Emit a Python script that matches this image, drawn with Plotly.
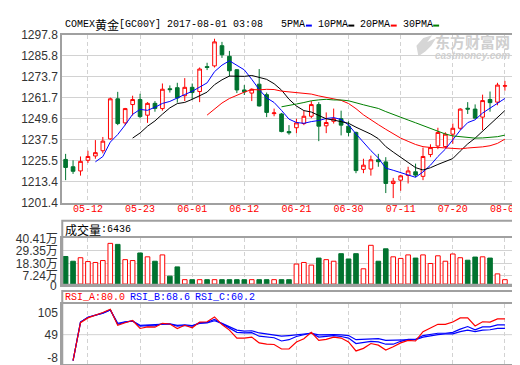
import plotly.graph_objects as go
import pandas as pd

# ---------------- data ----------------
dates = ["05-09","05-10","05-11","05-12","05-15","05-16","05-17","05-18","05-19","05-22",
         "05-23","05-24","05-25","05-26","05-29","05-30","05-31","06-01","06-02","06-05",
         "06-06","06-07","06-08","06-09","06-12","06-13","06-14","06-15","06-16","06-19",
         "06-20","06-21","06-22","06-23","06-26","06-27","06-28","06-29","06-30","07-03",
         "07-04","07-05","07-06","07-07","07-10","07-11","07-12","07-13","07-14","07-17",
         "07-18","07-19","07-20","07-21","07-24","07-25","07-26","07-27","07-28","08-01"]
tick_dates = ["05-12","05-23","06-01","06-12","06-21","06-30","07-11","07-20","08-01"]

opens = [1226.3,1222.1,1219.7,1225.8,1228.3,1231.3,1238.1,1261.1,1247.3,1257.8,
         1260.7,1251.7,1258.5,1255.5,1266.9,1267.5,1262.9,1267.7,1265.3,1279.6,
         1280.0,1291.6,1285.5,1277.8,1266.2,1264.4,1269.5,1263.5,1252.6,1252.4,
         1242.3,1244.5,1246.9,1251.1,1257.8,1245.6,1248.2,1249.7,1245.4,1241.8,
         1220.6,1220.8,1226.1,1224.9,1212.5,1214.4,1217.1,1219.2,1216.6,1229.1,
         1234.0,1233.7,1240.8,1244.2,1255.7,1255.2,1250.6,1260.7,1259.2,1268.4]
closes = [1221.7,1219.5,1225.2,1228.0,1230.2,1236.8,1261.1,1246.9,1255.5,1260.7,
          1250.9,1258.5,1255.6,1266.6,1266.4,1261.6,1267.7,1264.7,1278.2,1279.1,
          1293.8,1286.4,1277.2,1266.2,1265.1,1266.6,1257.0,1253.3,1253.0,1242.3,
          1241.6,1247.3,1251.1,1257.8,1245.4,1247.5,1249.7,1246.0,1241.8,1219.9,
          1223.0,1226.1,1225.0,1212.5,1213.8,1216.9,1219.7,1217.3,1228.0,1233.1,
          1241.8,1240.8,1244.2,1255.2,1255.2,1250.0,1260.1,1258.9,1269.0,1268.6]
highs = [1229.5,1225.8,1228.0,1231.3,1237.4,1239.2,1261.8,1265.1,1255.9,1262.9,
         1264.0,1259.2,1259.8,1269.9,1268.8,1270.3,1273.0,1269.9,1279.1,1281.8,
         1295.6,1293.8,1288.6,1278.2,1269.0,1267.1,1278.2,1264.7,1255.5,1253.0,
         1246.0,1249.7,1254.3,1259.8,1259.2,1253.3,1255.5,1254.3,1248.2,1242.3,
         1226.7,1228.5,1229.5,1227.6,1215.7,1217.5,1222.1,1223.9,1233.1,1235.0,
         1244.5,1241.9,1246.9,1255.7,1259.2,1257.9,1263.5,1265.3,1270.3,1271.4]
lows = [1214.4,1218.0,1217.0,1224.3,1226.7,1229.8,1237.5,1246.0,1246.0,1251.5,
        1250.0,1247.3,1253.7,1254.3,1264.7,1258.9,1259.8,1260.7,1259.2,1277.6,
        1279.1,1284.6,1273.9,1264.4,1263.3,1259.8,1256.7,1250.6,1251.1,1241.9,
        1240.5,1241.4,1246.0,1250.0,1236.8,1241.4,1246.9,1240.1,1239.6,1218.4,
        1218.4,1217.0,1222.1,1207.0,1204.1,1208.3,1212.5,1216.2,1214.4,1227.6,
        1232.2,1232.8,1235.3,1243.2,1252.4,1249.7,1243.2,1253.7,1257.4,1265.8]

# volume in 万 (10k)
volumes = [24.4,20.2,23.3,19.9,19.1,20.8,36.0,35.1,21.6,20.8,
           27.5,24.1,20.2,25.8,7.0,15.2,3.9,3.9,3.9,3.9,
           3.9,3.9,3.9,3.9,3.9,3.9,3.9,3.9,3.9,3.9,
           3.9,17.7,19.1,16.8,23.0,21.6,20.2,26.9,22.2,26.9,
           13.5,34.3,20.2,31.2,24.1,22.7,25.8,23.0,25.8,18.2,
           25.0,20.2,26.6,23.3,21.1,23.9,24.1,23.0,9.0,3.9]

# RSI lines, in the units of the panel's axis
rsi_a = [None,-16.1,79.1,91.2,97.6,104.9,113.0,72.6,79.1,84.7,
         64.6,68.6,67.8,77.5,75.9,64.6,72.6,66.2,80.7,81.5,
         93.6,74.3,60.5,40.4,40.4,42.8,28.3,25.0,24.2,12.9,
         12.9,30.7,38.8,54.9,34.7,37.2,42.8,40.4,30.7,8.1,
         14.6,26.7,22.6,10.5,18.6,28.3,34.7,33.1,56.5,65.4,
         75.1,75.1,80.7,91.2,91.2,71.0,81.5,80.7,88.8,88.8]
rsi_b = [None,-16.1,80.7,92.8,97.6,103.3,111.4,75.1,80.7,83.9,
         70.2,71.8,71.0,76.7,75.9,70.2,72.6,70.2,79.1,79.9,
         87.2,76.7,65.4,54.9,53.3,54.1,45.2,42.8,41.2,33.1,
         36.3,44.4,48.4,53.3,42.8,44.4,46.8,44.4,40.4,26.7,
         29.1,32.3,30.7,25.0,25.0,32.3,37.2,37.2,46.8,50.1,
         52.5,52.5,54.9,63.0,69.4,61.3,68.6,68.6,73.5,73.5]
rsi_c = [None,-16.1,80.7,92.8,97.6,103.3,111.4,77.5,81.5,83.1,
         72.6,73.4,73.4,75.9,75.9,72.6,73.4,71.8,77.5,78.3,
         83.9,77.5,68.6,60.5,58.1,58.9,53.3,50.9,49.2,45.2,
         46.8,49.2,50.9,52.5,48.4,49.2,49.2,48.4,46.8,36.3,
         37.2,38.8,38.8,34.7,34.7,34.7,35.5,36.3,42.8,46.8,
         49.2,50.9,50.9,56.5,60.5,56.5,60.5,61.4,64.6,64.6]

price_ticks = [1201.4,1213.4,1225.5,1237.5,1249.6,1261.7,1273.7,1285.8,1297.8]
vol_ticks = [7.24,18.30,29.35,40.41]
vol_ticktext = ["7.24万","18.30万","29.35万","40.41万"]
rsi_ticks = [-8,49,105]

ma_windows = [5,10,20,30]
ma_names = ["5PMA","10PMA","20PMA","30PMA"]

# ---------------- styling ----------------
W, H = 520, 365
RED = "#ff0000"
GREEN = "#00732f"
BLUE = "#0000ff"
FRAME = "#a0a0a0"
GRID = "#d2d2d2"
MA_COLORS = [BLUE, "#000000", "#ff0000", "#008000"]
MONO = "Liberation Mono, DejaVu Sans Mono, monospace"
CJK = "Noto Sans CJK SC"
SANS = "Liberation Sans, Arial, sans-serif"

def px(x):
    return x / W

def py(y):
    return 1 - y / H

X0, X1 = 55, 512
xdom = [px(X0), px(X1)]
xrange_ = [-0.45, 60.1]

fig = go.Figure()

# candles
fig.add_trace(go.Candlestick(
    x=dates, open=opens, high=highs, low=lows, close=closes,
    increasing=dict(line=dict(color=RED, width=1), fillcolor="white"),
    decreasing=dict(line=dict(color=GREEN, width=1), fillcolor=GREEN),
    whiskerwidth=0, xaxis="x", yaxis="y", showlegend=False, hoverinfo="skip"))

# moving averages of the closing price (5/10/20/30 periods)
close_s = pd.Series(closes)
for n, name, col in zip(ma_windows, ma_names, MA_COLORS):
    ma = close_s.rolling(n).mean()
    fig.add_trace(go.Scatter(x=dates, y=ma, mode="lines", name=name,
                             line=dict(color=col, width=1), xaxis="x", yaxis="y",
                             showlegend=False, hoverinfo="skip"))

# volume bars
up = [c >= o for o, c in zip(opens, closes)]
fig.add_trace(go.Bar(
    x=dates, y=volumes, width=0.62,
    marker=dict(color=["white" if u else GREEN for u in up],
                line=dict(color=[RED if u else GREEN for u in up], width=1)),
    xaxis="x2", yaxis="y2", showlegend=False, hoverinfo="skip"))

# RSI
for vals, col in [(rsi_c, BLUE), (rsi_b, BLUE), (rsi_a, RED)]:
    fig.add_trace(go.Scatter(x=dates, y=vals, mode="lines",
                             line=dict(color=col, width=1.2),
                             xaxis="x3", yaxis="y3", showlegend=False, hoverinfo="skip"))

xcommon = dict(type="category", categoryorder="array", categoryarray=dates,
               range=xrange_, domain=xdom, tickvals=tick_dates, ticktext=tick_dates,
               showgrid=True, gridcolor=GRID, griddash="4px,3px", gridwidth=1,
               showline=True, mirror=True, linecolor=FRAME, linewidth=2,
               ticks="", zeroline=False, fixedrange=True,
               rangeslider=dict(visible=False))

ycommon = dict(showline=True, mirror=True, linecolor=FRAME, linewidth=2,
               ticks="", zeroline=False, fixedrange=True,
               tickfont=dict(family=SANS + ", " + CJK, size=12, color="#333333"))

fig.update_layout(
    width=W, height=H,
    margin=dict(l=0, r=0, t=0, b=0),
    paper_bgcolor="white", plot_bgcolor="white",
    barmode="overlay",
    xaxis=dict(xcommon, anchor="y", ticklabelstandoff=-5,
               tickfont=dict(family=MONO, size=10, color=RED)),
    yaxis=dict(ycommon, domain=[py(195.3), py(20.7)], range=[1201.4, 1297.8],
               tickvals=price_ticks, ticktext=[f"{v:.1f}" for v in price_ticks],
               showgrid=True, gridcolor=GRID, gridwidth=1),
    xaxis2=dict(xcommon, anchor="y2", showticklabels=False),
    yaxis2=dict(ycommon, domain=[py(280.5), py(232.3)], range=[-0.6, 40.41],
                tickvals=vol_ticks, ticktext=vol_ticktext,
                showgrid=True, gridcolor=GRID, gridwidth=1),
    xaxis3=dict(xcommon, anchor="y3", showticklabels=False),
    yaxis3=dict(ycommon, domain=[py(364), py(301)], range=[-27.4, 125],
                tickvals=rsi_ticks, ticktext=[str(v) for v in rsi_ticks],
                showgrid=False),
    showlegend=False,
)

shapes = []
# volume panel header box
shapes.append(dict(type="rect", xref="paper", yref="paper",
                   x0=px(X0), x1=px(X1), y0=py(280.5), y1=py(214),
                   line=dict(color=FRAME, width=2)))
# RSI panel header box
shapes.append(dict(type="rect", xref="paper", yref="paper",
                   x0=px(X0), x1=px(X1), y0=py(364), y1=py(287),
                   line=dict(color=FRAME, width=2)))
# RSI middle guide line
shapes.append(dict(type="line", xref="paper", yref="y3",
                   x0=px(X0), x1=px(X1), y0=49, y1=49,
                   line=dict(color=GRID, width=1), layer="below"))
# legend dashes for the moving averages
dash_x = [302, 345, 388, 431]
for xx, col in zip(dash_x, MA_COLORS):
    shapes.append(dict(type="line", xref="paper", yref="paper",
                       x0=px(xx), x1=px(xx + 6), y0=py(11), y1=py(11),
                       line=dict(color=col, width=2)))
# watermark logo swoosh
logo_pts = [(416, 43), (414, 32), (421, 24), (430, 21), (425, 28), (434, 24),
            (429, 32), (423, 38)]
path = "M " + " L ".join(f"{px(a):.4f},{py(b):.4f}" for a, b in logo_pts) + " Z"
shapes.append(dict(type="path", xref="paper", yref="paper", path=path,
                   fillcolor="#d6d6d6", line=dict(width=0), layer="below"))
fig.update_layout(shapes=shapes)

ann = []
def text(x, y, s, color="#000000", size=10, family=MONO, xanchor="left"):
    ann.append(dict(x=px(x), y=py(y), xref="paper", yref="paper", text=s,
                    showarrow=False, xanchor=xanchor, yanchor="middle",
                    font=dict(family=family, size=size, color=color)))

# title line
text(56, 10, "COMEX")
text(86, 10, "黄金", size=12, family=CJK)
text(110, 10, "[GC00Y] 2017-08-01 03:08")
legend_x = [275, 312, 355, 398]
for xx, name in zip(legend_x, ma_names):
    text(xx, 10, name)
# volume header
text(56, 223, "成交量", size=12, family=CJK)
text(92, 223, ":6436")
# volume zero label
text(52, 282, "0", color="#333333", size=12, family=SANS, xanchor="right")
# RSI header
text(56, 294, "RSI_A:80.0", color=RED)
text(122, 294, "RSI_B:68.6", color=BLUE)
text(188, 294, "RSI_C:60.2", color=BLUE)
# watermark
text(511, 28, "<b>东方财富网</b>", color="#cfcfcf", size=15, family=CJK, xanchor="right")
text(511, 42, "<b><i>eastmoney.com</i></b>", color="#cfcfcf", size=10,
     family=SANS, xanchor="right")
fig.update_layout(annotations=ann)

fig.write_html("out.html")
